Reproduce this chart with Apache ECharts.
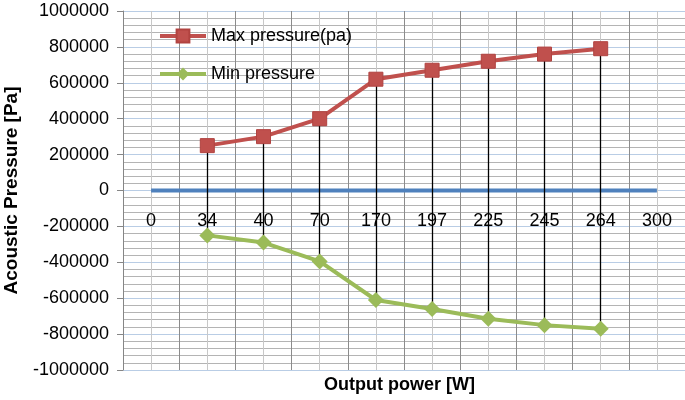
<!DOCTYPE html>
<html>
<head>
<meta charset="utf-8">
<script src="https://cdn.jsdelivr.net/npm/echarts@6/dist/echarts.min.js"></script>
<style>
  html, body { margin: 0; padding: 0; background: #fff; }
  #chart { width: 685px; height: 400px; }
</style>
</head>
<body>
<div id="chart"></div>
<script>
// output power categories [W]
var categories = ["0", "34", "40", "70", "170", "197", "225", "245", "264", "300"];
// acoustic pressure [Pa]
var maxPressure = [null, 250000, 300000, 400000, 620000, 670000, 720000, 760000, 790000, null];
var minPressure = [null, -250000, -290000, -395000, -610000, -660000, -715000, -750000, -770000, null];
var zeroLine = [0, 0, 0, 0, 0, 0, 0, 0, 0, 0];

// high-low lines between max and min at each category
var dropLines = [];
maxPressure.forEach(function (v, i) {
  if (v != null && minPressure[i] != null) {
    dropLines.push([{ coord: [i, v] }, { coord: [i, minPressure[i]] }]);
  }
});

var font = "Liberation Sans";
var myChart = echarts.init(document.getElementById("chart"));
myChart.setOption({
  animation: false,
  textStyle: { fontFamily: font },
  grid: { left: 123, right: 0, top: 11, bottom: 30, containLabel: false, outerBoundsMode: "none" },
  legend: {
    data: ["Max pressure(pa)", "Min pressure"],
    orient: "vertical",
    left: 153,
    top: 22,
    itemWidth: 46,
    itemHeight: 16,
    itemGap: 20,
    lineStyle: { width: 4 },
    textStyle: { fontSize: 18, color: "#000", fontFamily: font }
  },
  graphic: [
    {
      type: "text",
      left: 404 - 80,
      top: 376,
      style: { text: "Output power [W]", fontSize: 18, fontWeight: "bold", fill: "#000", fontFamily: font }
    }
  ],
  xAxis: [
    {
      type: "category",
      data: categories,
      boundaryGap: true,
      axisLine: { show: false, onZero: false },
      axisTick: { show: false },
      // labels sit just below the zero line, as in the original
      axisLabel: { margin: -158, fontSize: 18, color: "#000", interval: 0 },
      splitLine: { show: false }
    },
    {
      type: "value",
      min: 0,
      max: 20,
      interval: 1,
      axisLine: { show: false, onZero: false },
      axisTick: { show: false },
      axisLabel: { show: false },
      splitLine: { show: true, lineStyle: { color: ["#8c8c8c", "#c8c8c8"], width: 1 } }
    }
  ],
  yAxis: {
    type: "value",
    min: -1000000,
    max: 1000000,
    interval: 200000,
    name: "Acoustic Pressure [Pa]",
    nameLocation: "middle",
    nameGap: 102,
    nameTextStyle: { fontSize: 19, fontWeight: "bold", color: "#000" },
    axisLine: { show: true, onZero: false, lineStyle: { color: "#868686", width: 1 } },
    axisTick: { show: true, length: 6, lineStyle: { color: "#868686" } },
    axisLabel: { fontSize: 18, color: "#000", margin: 14, formatter: function (v) { return String(v); } },
    splitLine: { show: true, lineStyle: { color: "#b9cde5", width: 1 } },
    minorTick: { show: false, splitNumber: 5 },
    minorSplitLine: { show: true, lineStyle: { color: "#b4b4b4", width: 1 } }
  },
  series: [
    {
      name: "zero",
      type: "line",
      data: zeroLine,
      symbol: "none",
      lineStyle: { color: "#4f81bd", width: 4 },
      z: 3
    },
    {
      name: "Max pressure(pa)",
      type: "line",
      data: maxPressure,
      symbol: "rect",
      symbolSize: 14,
      itemStyle: { color: "#c0504d", borderColor: "#b14340", borderWidth: 1 },
      lineStyle: { color: "#c0504d", width: 4 },
      z: 5,
      markLine: {
        silent: true,
        symbol: "none",
        label: { show: false },
        lineStyle: { color: "#000", width: 1.3, type: "solid" },
        data: dropLines
      }
    },
    {
      name: "Min pressure",
      type: "line",
      data: minPressure,
      symbol: "diamond",
      symbolSize: 16,
      itemStyle: { color: "#9bbb59" },
      lineStyle: { color: "#9bbb59", width: 4 },
      z: 5
    }
  ]
});
</script>
</body>
</html>
